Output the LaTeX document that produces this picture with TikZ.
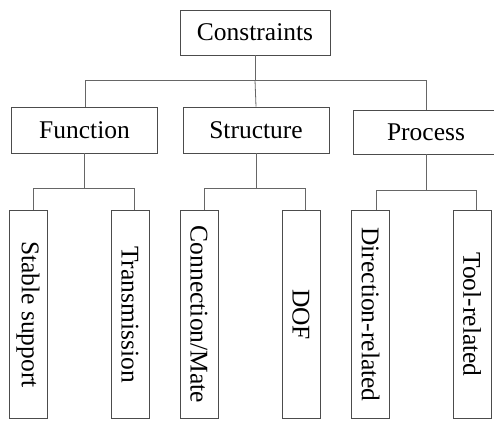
\documentclass[tikz,border=0pt]{standalone}
\usepackage{fontspec}
\setmainfont{Liberation Serif}
\usepackage{graphicx}
\begin{document}
\begin{tikzpicture}[x=1pt,y=-1pt,
  box/.style={draw=black!70, line width=0.8pt, fill=white, inner sep=0pt,
              font=\fontsize{25.5}{30}\selectfont},
  topbox/.style={box, minimum width=146pt, minimum height=46pt},
  leaf/.style={box, minimum width=38pt, minimum height=208pt},
  link/.style={draw=black!60, line width=0.8pt}]
\useasboundingbox (0,0) rectangle (494,421);
\clip (0,0) rectangle (494,421);

% root and category boxes
\node[topbox, minimum width=150pt, minimum height=45pt] (root) at (255,32.5) {Constraints};
\node[topbox] (fun) at (84.5,130) {Function};
\node[topbox] (str) at (256,130) {Structure};
\node[topbox, minimum height=44pt] (pro) at (426,132) {Process};

% leaf boxes with vertical labels
\node[leaf] (f1) at (28,314.5) {\rotatebox{-90}{Stable support}};
\node[leaf] (f2) at (130,314.5) {\rotatebox{-90}{Transmission}};
\node[leaf] (s1) at (199,314.5) {\rotatebox{-90}{Connection/Mate}};
\node[leaf] (s2) at (301,314.5) {\rotatebox{-90}{DOF}};
\node[leaf] (p1) at (370.5,314.5) {\rotatebox{-90}{Direction-related}};
\node[leaf] (p2) at (472,314.5) {\rotatebox{-90}{Tool-related}};

% branch ends
\coordinate (rL) at (85,80);
\coordinate (rR) at (426,80);
\coordinate (fL) at (33,188);
\coordinate (fR) at (134,188);
\coordinate (sL) at (204,188);
\coordinate (sR) at (305,188);
\coordinate (pL) at (376,190);
\coordinate (pR) at (476,190);

% root to categories
\draw[link] (root.south) -- (root.south |- rL);
\draw[link] (rL) -- (rR);
\draw[link] (rL) -- (rL |- fun.north);
\draw[link] (root.south |- rL) -- (str.north);
\draw[link] (rR) -- (rR |- pro.north);

% categories to leaves
\draw[link] (fun.south) -- (fun.south |- fL);
\draw[link] (fL) -- (fR);
\draw[link] (fL) -- (fL |- f1.north);
\draw[link] (fR) -- (fR |- f2.north);

\draw[link] (str.south) -- (str.south |- sL);
\draw[link] (sL) -- (sR);
\draw[link] (sL) -- (sL |- s1.north);
\draw[link] (sR) -- (sR |- s2.north);

\draw[link] (pro.south) -- (pro.south |- pL);
\draw[link] (pL) -- (pR);
\draw[link] (pL) -- (pL |- p1.north);
\draw[link] (pR) -- (pR |- p2.north);
\end{tikzpicture}
\end{document}
